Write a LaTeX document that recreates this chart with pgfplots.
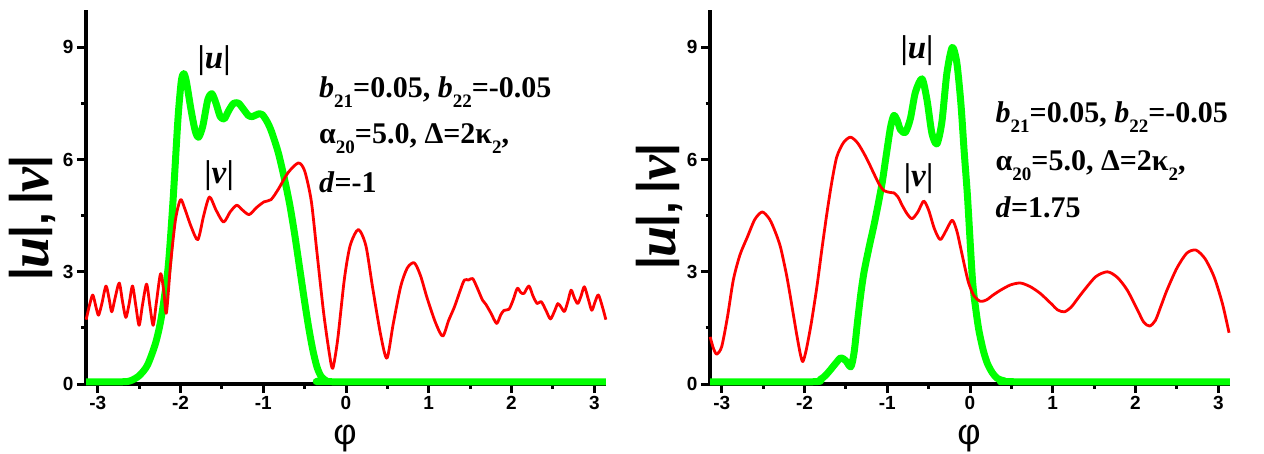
\documentclass[border=0pt]{standalone}
\usepackage{fontspec}
\setmainfont{Liberation Sans}
\newfontfamily\tnr{Liberation Serif}
\usepackage{pgfplots}
\pgfplotsset{compat=1.18}
\definecolor{ugreen}{RGB}{0,255,0}
\definecolor{vred}{RGB}{255,0,0}
\newcommand{\sub}[1]{\raisebox{-0.33em}{\fontsize{19}{19}\selectfont #1}}
\newcommand{\pfont}{\tnr\bfseries\fontsize{30}{30}\selectfont}
\newcommand{\lfont}{\tnr\bfseries\fontsize{33}{33}\selectfont}
\newcommand{\ylab}{{\bfseries\fontsize{46}{46}\selectfont
  \raisebox{6pt}{|}\kern-1pt{\tnr\itshape\fontsize{56}{56}\selectfont u}\kern-1pt\raisebox{6pt}{|},\hspace{8pt}\raisebox{6pt}{|}{\tnr\itshape\fontsize{56}{56}\selectfont v}\kern-1pt\raisebox{6pt}{|}}}
\pgfplotsset{myax/.style={
  scale only axis, width=520pt, height=374pt,
  xmin=-3.14159, xmax=3.14159, ymin=0, ymax=10,
  axis lines=left, axis line style={-, line width=4pt},
  tick align=outside, major tick length=9pt, minor tick length=4.5pt,
  tick style={black, line width=3pt},
  xtick={-3,-2,-1,0,1,2,3}, xticklabels={-3,-2,-1,0,1,2,3},
  ytick={0,3,6,9}, yticklabels={0,3,6,9},
  minor x tick num=1, minor y tick num=1,
  tick label style={font=\fontsize{19}{19}\selectfont\bfseries},
  clip=false,
  xlabel={\fontsize{36}{36}\selectfont φ},
  ylabel={\ylab},
  every axis x label/.style={at={(axis description cs:0.498,-0.161)}, anchor=base, inner sep=0pt},
  every axis y label/.style={at={(axis description cs:-0.104,0.444)}, anchor=center, rotate=90},
  ugr/.style={color=ugreen, line width=7pt, line join=round, smooth, tension=0.45},
  vrd/.style={color=vred, line width=2.8pt, line join=round, smooth, tension=0.45},
}}
\begin{document}
\begin{tikzpicture}
\useasboundingbox (0,0) rectangle (1264pt,453pt);
\begin{axis}[myax, at={(86pt,69pt)}, anchor=south west]
\addplot[ugr] coordinates {(-3.14,0.06) (-2.7,0.06) (-2.6,0.09) (-2.5,0.22) (-2.4,0.5) (-2.3,1.1) (-2.23,1.8) (-2.15,3.1) (-2.09,4.9) (-2.03,7.1) (-1.99,8.1) (-1.96,8.3) (-1.93,8.1) (-1.87,7.3) (-1.82,6.75) (-1.78,6.6) (-1.73,6.9) (-1.67,7.6) (-1.62,7.76) (-1.57,7.5) (-1.52,7.15) (-1.47,7.09) (-1.42,7.3) (-1.36,7.5) (-1.30,7.51) (-1.24,7.35) (-1.18,7.18) (-1.13,7.15) (-1.06,7.22) (-1.01,7.2) (-0.95,7.0) (-0.9,6.75) (-0.82,6.2) (-0.745,5.5) (-0.68,4.8) (-0.62,4.0) (-0.56,3.1) (-0.50,2.2) (-0.45,1.5) (-0.40,0.9) (-0.35,0.45) (-0.30,0.2) (-0.24,0.09) (-0.15,0.06) (3.14,0.06)};
\addplot[vrd] coordinates {(-3.14,1.72) (-3.10,2.1) (-3.06,2.38) (-3.02,2.05) (-2.99,1.84) (-2.95,2.15) (-2.90,2.62) (-2.86,2.25) (-2.83,1.93) (-2.79,2.3) (-2.74,2.70) (-2.70,2.2) (-2.66,1.78) (-2.62,2.15) (-2.58,2.62) (-2.54,2.1) (-2.50,1.57) (-2.46,2.1) (-2.41,2.67) (-2.37,2.1) (-2.33,1.57) (-2.29,2.2) (-2.24,2.95) (-2.20,2.45) (-2.17,1.90) (-2.12,3.2) (-2.06,4.4) (-2.00,4.93) (-1.95,4.7) (-1.87,4.2) (-1.79,3.86) (-1.72,4.5) (-1.65,5.00) (-1.57,4.65) (-1.48,4.33) (-1.40,4.6) (-1.32,4.78) (-1.25,4.65) (-1.17,4.53) (-1.08,4.72) (-0.99,4.87) (-0.906,4.93) (-0.82,5.2) (-0.70,5.65) (-0.576,5.91) (-0.50,5.7) (-0.42,4.9) (-0.35,3.5) (-0.27,1.9) (-0.2,0.8) (-0.16,0.42) (-0.10,1.2) (-0.02,2.8) (0.05,3.7) (0.149,4.13) (0.24,3.7) (0.32,2.6) (0.42,1.3) (0.495,0.69) (0.57,1.6) (0.66,2.6) (0.74,3.1) (0.825,3.24) (0.9,2.9) (0.98,2.3) (1.08,1.65) (1.168,1.28) (1.24,1.7) (1.31,2.06) (1.38,2.5) (1.43,2.78) (1.48,2.78) (1.53,2.82) (1.58,2.6) (1.65,2.24) (1.69,2.13) (1.75,1.9) (1.82,1.62) (1.87,1.85) (1.91,1.97) (1.97,2.0) (2.02,2.25) (2.07,2.56) (2.11,2.45) (2.15,2.42) (2.21,2.62) (2.26,2.35) (2.31,2.15) (2.36,2.2) (2.42,1.95) (2.47,1.74) (2.52,1.95) (2.56,2.15) (2.60,2.05) (2.64,1.94) (2.68,2.2) (2.72,2.51) (2.76,2.3) (2.80,2.15) (2.84,2.35) (2.88,2.60) (2.93,2.25) (2.97,1.97) (3.01,2.2) (3.05,2.38) (3.10,2.05) (3.14,1.72)};
\node[font=\lfont, anchor=center] at (axis cs:-1.594,8.65) {|\textit{u}|};
\node[font=\lfont, anchor=center] at (axis cs:-1.534,5.58) {|\textit{v}|};
\node[font=\pfont, anchor=base west, inner sep=0pt] at (axis cs:-0.326,7.66) {\textit{b}\sub{21}=0.05, \textit{b}\sub{22}=-0.05};
\node[font=\pfont, anchor=base west, inner sep=0pt] at (axis cs:-0.326,6.43) {α\sub{20}=5.0, Δ=2κ\sub{2},};
\node[font=\pfont, anchor=base west, inner sep=0pt] at (axis cs:-0.326,5.12) {\textit{d}=-1};
\end{axis}
\begin{axis}[myax, at={(710pt,69pt)}, anchor=south west,
  every axis y label/.style={at={(axis description cs:-0.098,0.474)}, anchor=center, rotate=90}]
\addplot[ugr] coordinates {(-3.14,0.06) (-1.9,0.06) (-1.81,0.12) (-1.75,0.22) (-1.69,0.37) (-1.62,0.56) (-1.56,0.7) (-1.50,0.62) (-1.44,0.46) (-1.40,0.85) (-1.36,1.65) (-1.32,2.4) (-1.28,3.0) (-1.22,3.65) (-1.16,4.25) (-1.11,4.8) (-1.06,5.4) (-1.01,6.15) (-0.96,6.87) (-0.92,7.18) (-0.88,7.05) (-0.84,6.8) (-0.78,6.73) (-0.72,7.1) (-0.66,7.8) (-0.58,8.16) (-0.52,7.6) (-0.46,6.7) (-0.40,6.42) (-0.34,7.0) (-0.28,8.3) (-0.215,9.0) (-0.16,8.6) (-0.11,7.5) (-0.07,6.2) (-0.03,5.0) (0.03,2.78) (0.07,2.0) (0.107,1.44) (0.16,0.9) (0.21,0.55) (0.27,0.3) (0.33,0.15) (0.42,0.08) (0.55,0.06) (3.14,0.06)};
\addplot[vrd] coordinates {(-3.14,1.26) (-3.10,0.95) (-3.06,0.80) (-3.00,1.0) (-2.93,1.8) (-2.86,2.78) (-2.78,3.45) (-2.69,3.93) (-2.60,4.4) (-2.51,4.60) (-2.42,4.4) (-2.35,4.05) (-2.29,3.66) (-2.22,2.95) (-2.17,2.33) (-2.10,1.4) (-2.05,0.8) (-2.02,0.60) (-1.98,0.9) (-1.92,1.6) (-1.85,2.60) (-1.79,3.6) (-1.73,4.55) (-1.67,5.4) (-1.61,6.07) (-1.53,6.45) (-1.445,6.60) (-1.36,6.45) (-1.28,6.16) (-1.22,5.9) (-1.16,5.62) (-1.10,5.35) (-1.04,5.17) (-0.96,5.12) (-0.92,5.11) (-0.87,5.0) (-0.82,4.78) (-0.76,4.55) (-0.70,4.42) (-0.63,4.6) (-0.56,4.89) (-0.50,4.65) (-0.43,4.15) (-0.36,3.86) (-0.29,4.1) (-0.215,4.38) (-0.16,4.1) (-0.115,3.66) (-0.06,3.1) (-0.015,2.69) (0.05,2.35) (0.127,2.21) (0.2,2.25) (0.28,2.38) (0.37,2.51) (0.49,2.65) (0.61,2.70) (0.73,2.6) (0.85,2.42) (0.98,2.15) (1.06,1.98) (1.14,1.93) (1.22,2.05) (1.30,2.28) (1.38,2.51) (1.52,2.87) (1.66,3.00) (1.78,2.85) (1.90,2.51) (2.03,1.95) (2.10,1.65) (2.17,1.55) (2.24,1.7) (2.31,2.1) (2.38,2.51) (2.50,3.1) (2.62,3.5) (2.73,3.58) (2.84,3.35) (2.95,2.86) (3.05,2.15) (3.13,1.37)};
\node[font=\lfont, anchor=center] at (axis cs:-0.64,8.91) {|\textit{u}|};
\node[font=\lfont, anchor=center] at (axis cs:-0.62,5.50) {|\textit{v}|};
\node[font=\pfont, anchor=base west, inner sep=0pt] at (axis cs:0.308,7.0) {\textit{b}\sub{21}=0.05, \textit{b}\sub{22}=-0.05};
\node[font=\pfont, anchor=base west, inner sep=0pt] at (axis cs:0.308,5.71) {α\sub{20}=5.0, Δ=2κ\sub{2},};
\node[font=\pfont, anchor=base west, inner sep=0pt] at (axis cs:0.308,4.46) {\textit{d}=1.75};
\end{axis}
\end{tikzpicture}
\end{document}
